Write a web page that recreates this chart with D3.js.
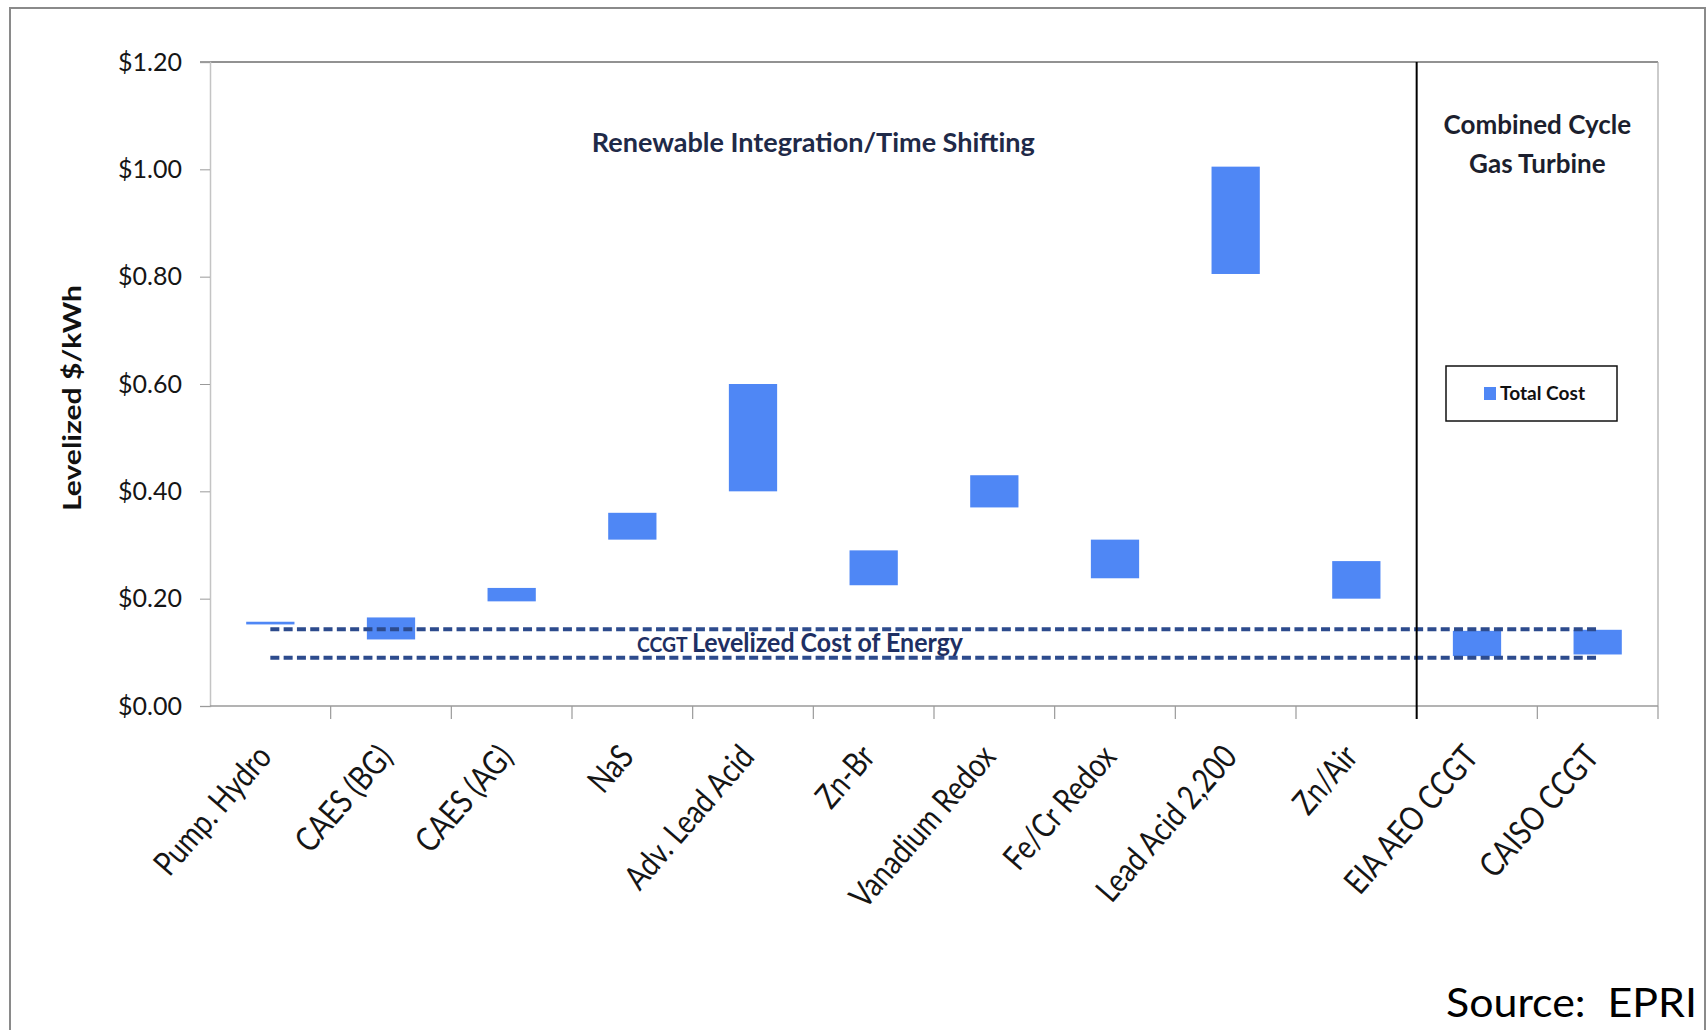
<!DOCTYPE html>
<html>
<head>
<meta charset="utf-8">
<script src="https://cdn.jsdelivr.net/npm/d3@7"></script>
<style>
  html, body { margin: 0; padding: 0; background: #fff; }
  svg { display: block; }
</style>
</head>
<body>
<div id="chart"></div>
<script>
// Storage technologies and reference gas plants
const categories = [
  "Pump. Hydro", "CAES (BG)", "CAES (AG)", "NaS", "Adv. Lead Acid", "Zn-Br",
  "Vanadium Redox", "Fe/Cr Redox", "Lead Acid 2,200", "Zn/Air", "EIA AEO CCGT", "CAISO CCGT"
];
// Levelized total cost range, $/kWh (floating bars: low to high)
const costLow  = [0.152, 0.124, 0.195, 0.310, 0.400, 0.225, 0.370, 0.238, 0.805, 0.200, 0.093, 0.096];
const costHigh = [0.157, 0.165, 0.220, 0.360, 0.600, 0.290, 0.430, 0.310, 1.005, 0.270, 0.140, 0.142];
// CCGT levelized cost of energy band (dashed reference lines)
const ccgtLow  = [0.09, 0.09, 0.09, 0.09, 0.09, 0.09, 0.09, 0.09, 0.09, 0.09, 0.09, 0.09];
const ccgtHigh = [0.143, 0.143, 0.143, 0.143, 0.143, 0.143, 0.143, 0.143, 0.143, 0.143, 0.143, 0.143];
// Axis ticks
const yTicks = [0, 0.2, 0.4, 0.6, 0.8, 1.0, 1.2];
const yMax = 1.2;
const gasStart = "EIA AEO CCGT";

const W = 1707, H = 1030;
const plot = { left: 210, right: 1658, top: 62, bottom: 706 };
const font = "Lato, 'Open Sans', sans-serif";
const barColor = "#4f87f5";
const dashColor = "#2d4b8d";

const svg = d3.select("#chart").append("svg")
  .attr("width", W).attr("height", H)
  .style("font-family", font);

// outer frame
svg.append("rect")
  .attr("x", 10).attr("y", 8).attr("width", 1695).attr("height", 1040)
  .attr("fill", "none").attr("stroke", "#8a8a8a").attr("stroke-width", 2);

const x = d3.scaleBand().domain(categories).range([plot.left, plot.right]).padding(0);
const y = d3.scaleLinear().domain([0, yMax]).range([plot.bottom, plot.top]);
const barW = x.bandwidth() * 0.4;
const cx = c => x(c) + x.bandwidth() / 2;

// plot frame: top and right edges
svg.append("line")
  .attr("x1", plot.left - 10).attr("x2", plot.right)
  .attr("y1", y(yMax)).attr("y2", y(yMax))
  .attr("stroke", "#6e6e6e").attr("stroke-width", 1.5);
svg.append("line")
  .attr("x1", plot.right).attr("x2", plot.right)
  .attr("y1", y(yMax)).attr("y2", y(0))
  .attr("stroke", "#a8a8a8").attr("stroke-width", 1.2);

// y axis
const yAxis = svg.append("g")
  .attr("transform", `translate(${plot.left},0)`)
  .call(d3.axisLeft(y).tickValues(yTicks).tickSize(10).tickPadding(18)
    .tickFormat(d => "$" + d.toFixed(2)));
yAxis.select(".domain").attr("stroke", "#c4c4c4").attr("stroke-width", 1.5);
yAxis.selectAll(".tick line").attr("stroke", "#9a9a9a");
yAxis.selectAll(".tick text")
  .attr("fill", "#151515").style("font-size", "25px").style("font-family", font);

// x axis line and boundary ticks
svg.append("line")
  .attr("x1", plot.left).attr("x2", plot.right)
  .attr("y1", y(0)).attr("y2", y(0))
  .attr("stroke", "#9a9a9a").attr("stroke-width", 1.5);
svg.append("g").selectAll("line")
  .data(categories.slice(1).map(c => x(c)).concat([plot.right]))
  .join("line")
  .attr("x1", d => d).attr("x2", d => d)
  .attr("y1", y(0)).attr("y2", y(0) + 13)
  .attr("stroke", "#9a9a9a").attr("stroke-width", 1.2);

// category labels (narrow, steeply slanted)
svg.append("g").selectAll("text")
  .data(categories)
  .join("text")
  .attr("transform", d => `translate(${cx(d) + 3},${y(0) + 52}) rotate(-49) scale(0.92,1.12)`)
  .attr("text-anchor", "end")
  .attr("fill", "#151515")
  .style("font-size", "30px")
  .text(d => d);

// floating cost bars
svg.append("g").selectAll("rect")
  .data(categories.map((c, i) => ({ c, lo: costLow[i], hi: costHigh[i] })))
  .join("rect")
  .attr("x", d => cx(d.c) - barW / 2)
  .attr("width", barW)
  .attr("y", d => y(d.hi))
  .attr("height", d => y(d.lo) - y(d.hi))
  .attr("fill", barColor);

// CCGT cost band as two dashed lines across category centres
const line = d3.line().x((d, i) => cx(categories[i])).y(d => y(d));
[ccgtHigh, ccgtLow].forEach(series => {
  svg.append("path")
    .attr("d", line(series))
    .attr("fill", "none")
    .attr("stroke", dashColor)
    .attr("stroke-width", 4)
    .attr("stroke-dasharray", "9 4.3");
});

// label for the CCGT band
const ccgtLabel = svg.append("text")
  .attr("x", 800).attr("y", 652)
  .attr("text-anchor", "middle")
  .attr("fill", "#1e2f63")
  .attr("textLength", 326).attr("lengthAdjust", "spacingAndGlyphs")
  .style("font-weight", "bold");
ccgtLabel.append("tspan").style("font-size", "21px").text("CCGT ");
ccgtLabel.append("tspan").style("font-size", "27px").text("Levelized Cost of Energy");

// divider between storage and gas turbine sections
svg.append("line")
  .attr("x1", x(gasStart)).attr("x2", x(gasStart))
  .attr("y1", y(yMax)).attr("y2", y(0) + 13)
  .attr("stroke", "#000").attr("stroke-width", 2);

// section titles
svg.append("text")
  .attr("x", (plot.left + x(gasStart)) / 2).attr("y", 152)
  .attr("text-anchor", "middle")
  .attr("fill", "#1f2a48")
  .attr("textLength", 443).attr("lengthAdjust", "spacingAndGlyphs")
  .style("font-size", "27px").style("font-weight", "bold")
  .text("Renewable Integration/Time Shifting");

const gasTitle = svg.append("text")
  .attr("text-anchor", "middle")
  .attr("fill", "#1c1f2e")
  .style("font-size", "26px").style("font-weight", "bold");
const gasCx = (x(gasStart) + plot.right) / 2;
gasTitle.append("tspan").attr("x", gasCx).attr("y", 134).text("Combined Cycle");
gasTitle.append("tspan").attr("x", gasCx).attr("y", 173).text("Gas Turbine");

// legend
svg.append("rect")
  .attr("x", 1446).attr("y", 366).attr("width", 171).attr("height", 55)
  .attr("fill", "#fff").attr("stroke", "#111").attr("stroke-width", 1.5);
svg.append("rect")
  .attr("x", 1484).attr("y", 387).attr("width", 12).attr("height", 13)
  .attr("fill", barColor);
svg.append("text")
  .attr("x", 1500).attr("y", 400)
  .attr("fill", "#111")
  .attr("textLength", 85).attr("lengthAdjust", "spacingAndGlyphs")
  .style("font-size", "18px").style("font-weight", "bold")
  .text("Total Cost");

// y axis title
svg.append("text")
  .attr("transform", `translate(81,398) rotate(-90)`)
  .attr("text-anchor", "middle")
  .attr("fill", "#111")
  .attr("textLength", 226).attr("lengthAdjust", "spacingAndGlyphs")
  .style("font-size", "24px").style("font-weight", "bold")
  .text("Levelized $/kWh");

// source note
svg.append("text")
  .attr("x", 1697).attr("y", 1017)
  .attr("text-anchor", "end")
  .attr("fill", "#000")
  .attr("xml:space", "preserve")
  .style("white-space", "pre")
  .attr("textLength", 251).attr("lengthAdjust", "spacingAndGlyphs")
  .style("font-size", "40px")
  .text("Source:\u00a0\u00a0EPRI");
</script>
</body>
</html>
